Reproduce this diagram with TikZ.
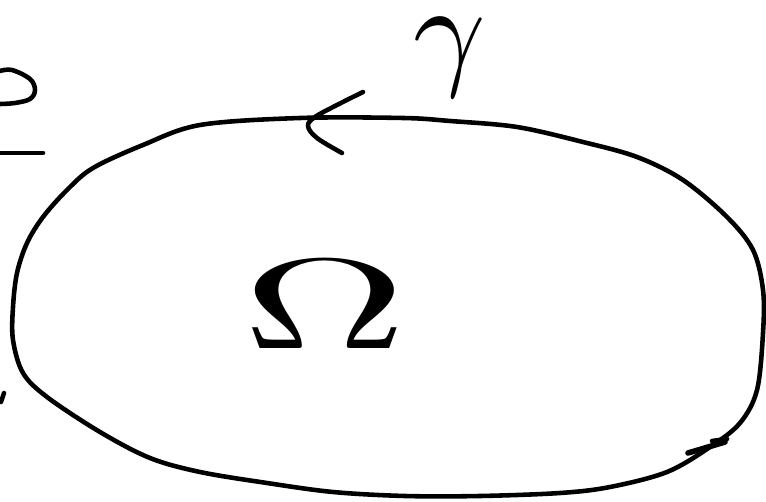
\documentclass[tikz,border=0pt]{standalone}
\usepackage{amsmath}
\usepackage{tikz}
\def\sketchw{766}
\def\sketchh{502}

\begin{document}
\begin{tikzpicture}[x=0.02cm, y=-0.02cm, line cap=round, line join=round,
		pen/.style={line width=2.6pt},
		letter/.style={inner sep=0pt, outer sep=0pt}]
	\useasboundingbox (0,0) rectangle (\sketchw,\sketchh);
	% boundary of the domain
	\draw[pen] plot[smooth cycle, tension=0.55] coordinates {
		(300,118) (403,118) (450,121) (517,127) (583,142) (637,157)
		(683,180) (727,217) (753,250) (763,290) (763,333) (757,390)
		(740,423) (710,447) (667,472) (610,487) (560,493) (480,496)
		(405,496) (333,492) (267,483) (200,472) (150,458) (100,432)
		(47,397) (23,373) (13,340) (13,307) (17,273) (27,243)
		(43,217) (67,190) (93,168) (143,145) (200,125)};
	% orientation marks
	\draw[pen] plot[smooth, tension=0.6] coordinates {
		(363,92) (337,105) (315,117) (308,126) (317,138) (342,153)};
	\draw[pen, line width=3.2pt] (688,453) -- (725,442);
	\draw[pen] (712,441) -- (727,439);
	% labels
	\node[letter] (gamma) at (450,58) {\scalebox{7.2}{$\gamma$}};
	\node[letter] (omega) at (325,305) {\scalebox{13}[7.3]{$\Omega$}};
	% cut-off strokes at the left edge
	\draw[pen] plot[smooth, tension=0.6] coordinates {
		(0,71) (12,70) (30,79) (35,90) (30,99) (15,103) (0,104)};
	\draw[pen] (0,153) -- (43,153);
	\draw[pen] (1,402) -- (4,393);
\end{tikzpicture}
\end{document}
